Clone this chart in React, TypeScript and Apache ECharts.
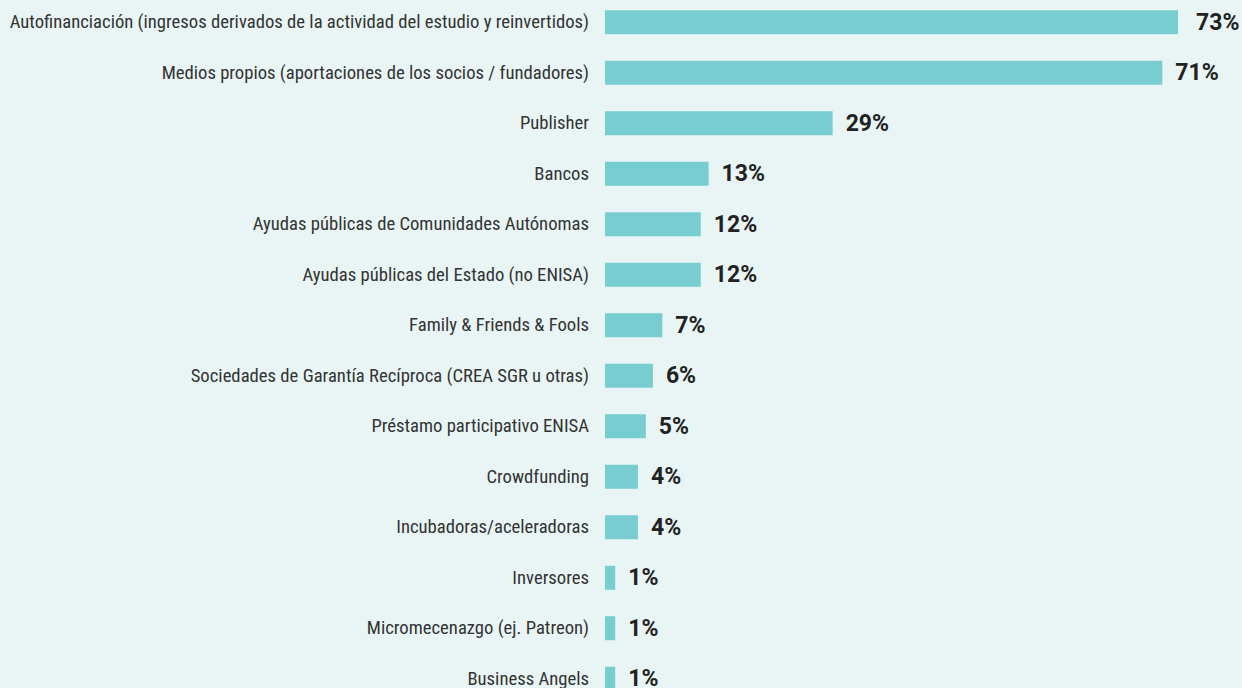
import React, { useEffect, useRef } from "react";
import * as echarts from "echarts";

const categories = [
  "Autofinanciación (ingresos derivados de la actividad del estudio y reinvertidos)",
  "Medios propios (aportaciones de los socios / fundadores)",
  "Publisher",
  "Bancos",
  "Ayudas públicas de Comunidades Autónomas",
  "Ayudas públicas del Estado (no ENISA)",
  "Family & Friends & Fools",
  "Sociedades de Garantía Recíproca (CREA SGR u otras)",
  "Préstamo participativo ENISA",
  "Crowdfunding",
  "Incubadoras/aceleradoras",
  "Inversores",
  "Micromecenazgo (ej. Patreon)",
  "Business Angels",
];

const values = [73, 71, 29, 13.2, 12.2, 12.2, 7.3, 6.1, 5.2, 4.2, 4.2, 1.3, 1.3, 1.3];

export default function App() {
  const ref = useRef<HTMLDivElement>(null);
  useEffect(() => {
    document.body.style.margin = "0";
    const chart = echarts.init(ref.current!, null, { renderer: "svg" });
    chart.setOption({
      animation: false,
      backgroundColor: "#E9F5F5",
      grid: { left: 605, top: 1, height: 707, width: 628, containLabel: false },
      xAxis: { type: "value", min: 0, max: 80, show: false },
      yAxis: {
        type: "category",
        inverse: true,
        data: categories,
        axisLine: { show: false },
        axisTick: { show: false },
        axisLabel: {
          margin: 16,
          fontSize: 18.67,
          color: "#333333",
          padding: [3, 0, 0, 0],
          fontFamily: "'Roboto Condensed', 'Liberation Sans Narrow', 'DejaVu Sans Condensed', Roboto, sans-serif",
        },
      },
      series: [
        {
          type: "bar",
          data: values.map((v, i) => (i === 0 ? { value: v, label: { distance: 18 } } : v)),
          barWidth: 24,
          itemStyle: { color: "#77CDD0" },
          label: {
            show: true,
            position: "right",
            distance: 13,
            fontSize: 23,
            fontWeight: "bold",
            color: "#222222",
            fontFamily: "Roboto, sans-serif",
            formatter: (p: any) => Math.round(p.value) + "%",
          },
        },
      ],
    });
    return () => chart.dispose();
  }, []);
  return (
    <div style={{ position: "absolute", left: 0, top: 0, width: 1242, height: 688, overflow: "hidden", background: "#E9F5F5" }}>
      <div ref={ref} style={{ position: "absolute", left: 0, top: -4, width: 1242, height: 720 }} />
    </div>
  );
}
